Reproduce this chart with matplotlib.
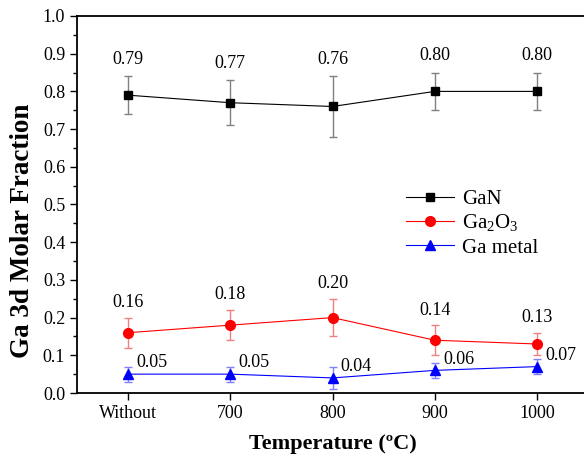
import numpy as np
import matplotlib
matplotlib.use("Agg")
import matplotlib.pyplot as plt
from matplotlib.ticker import MultipleLocator
from matplotlib.lines import Line2D

plt.rcParams['font.family'] = ['Liberation Serif', 'DejaVu Serif']
plt.rcParams['mathtext.fontset'] = 'custom'
plt.rcParams['mathtext.rm'] = 'Liberation Serif'

# datos
categorias = ['Without', '700', '800', '900', '1000']
gan = [0.79, 0.77, 0.76, 0.80, 0.80]
gan_err = [0.05, 0.06, 0.08, 0.05, 0.05]
ga2o3 = [0.16, 0.18, 0.20, 0.14, 0.13]
ga2o3_err = [0.04, 0.04, 0.05, 0.04, 0.03]
ga_metal = [0.05, 0.05, 0.04, 0.06, 0.07]
ga_metal_err = [0.02, 0.02, 0.03, 0.02, 0.02]

x = np.arange(len(categorias))

fig = plt.figure(figsize=(5.84, 4.54), dpi=100)
ax = fig.add_axes([77/584, 61/454, 511/584, 377/454])

ax.errorbar(x, gan, yerr=gan_err, color='black', marker='s', markersize=5.5,
            linewidth=0.8, ecolor='#808080', elinewidth=1, capsize=3)
ax.errorbar(x, ga2o3, yerr=ga2o3_err, color='red', marker='o', markersize=7,
            linewidth=0.8, ecolor='#f08080', elinewidth=1, capsize=3)
ax.errorbar(x, ga_metal, yerr=ga_metal_err, color='blue', marker='^', markersize=7,
            linewidth=0.8, ecolor='#8080ff', elinewidth=1, capsize=3)

# etiquetas de valores
for i in range(len(x)):
    ax.text(x[i], gan[i] + gan_err[i] + 0.045, f'{gan[i]:.2f}', ha='center', va='center', fontsize=13)
    ax.text(x[i], ga2o3[i] + ga2o3_err[i] + 0.04, f'{ga2o3[i]:.2f}', ha='center', va='center', fontsize=13)
    ax.text(x[i] + 0.08, ga_metal[i] + 0.03, f'{ga_metal[i]:.2f}', ha='left', va='center', fontsize=13)

ax.set_xlim(-0.5, 4.5)
ax.set_ylim(0, 1.0)
ax.set_xticks(x)
ax.set_xticklabels(categorias)
ax.yaxis.set_major_locator(MultipleLocator(0.1))
ax.yaxis.set_minor_locator(MultipleLocator(0.05))
ax.yaxis.set_major_formatter(matplotlib.ticker.FormatStrFormatter('%.1f'))
ax.tick_params(axis='both', which='major', direction='out', length=5, width=1, labelsize=13)
ax.tick_params(axis='y', which='minor', direction='out', length=3, width=1)
for s in ax.spines.values():
    s.set_linewidth(1.3)

ax.set_xlabel('Temperature (ºC)', fontsize=16, fontweight='bold', labelpad=9)
ax.set_ylabel('Ga 3d Molar Fraction', fontsize=19.5, fontweight='bold')
ax.yaxis.set_label_coords(-0.082, 0.43)

handles = [
    Line2D([], [], color='black', marker='s', markersize=5.5, linewidth=0.8),
    Line2D([], [], color='red', marker='o', markersize=7, linewidth=0.8),
    Line2D([], [], color='blue', marker='^', markersize=7, linewidth=0.8),
]
labels = ['GaN', 'Ga$_\\mathregular{2}$O$_\\mathregular{3}$', 'Ga metal']
ax.legend(handles, labels, loc='upper left', bbox_to_anchor=(0.608, 0.59), frameon=False,
          fontsize=15, handlelength=2.3, labelspacing=0.18, handletextpad=0.35)

fig.savefig('out.png', dpi=100)
